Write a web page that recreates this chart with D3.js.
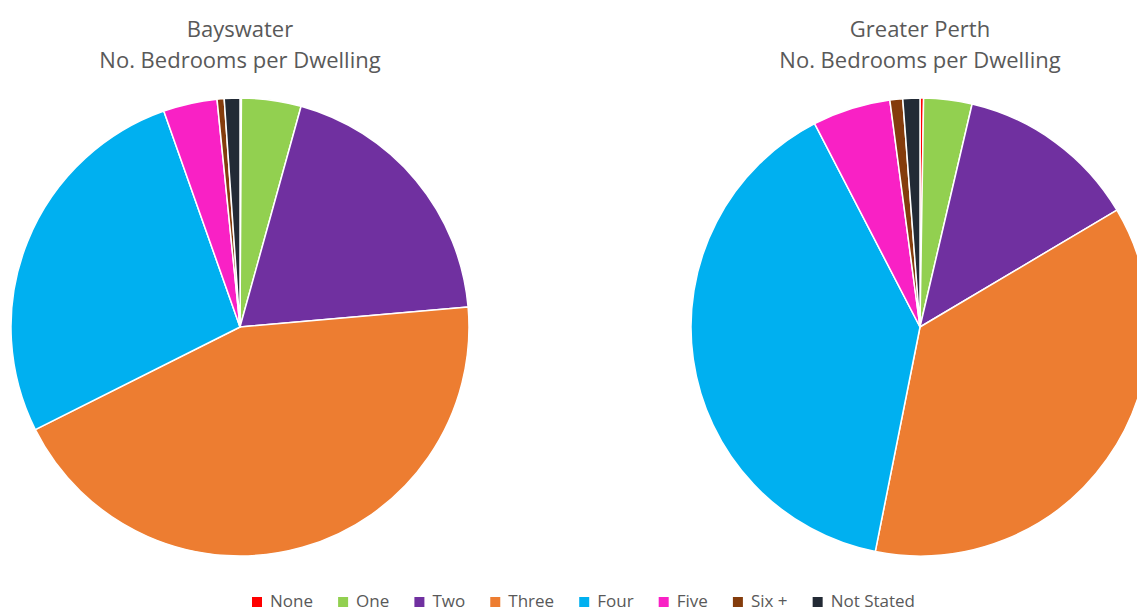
<!DOCTYPE html>
<html>
<head>
<meta charset="utf-8">
<script src="https://cdn.jsdelivr.net/npm/d3@7"></script>
<style>
  html, body { margin: 0; padding: 0; background: #fff; overflow: hidden; }
  svg { display: block; }
  text { font-family: "Open Sans", "Noto Sans", sans-serif; fill: #595959; }
</style>
</head>
<body>
<svg id="chart" width="1137" height="613"></svg>
<script>
// Bedroom categories and their colours
const categories = ["None", "One", "Two", "Three", "Four", "Five", "Six +", "Not Stated"];
const colors = ["#FF0000", "#92D050", "#7030A0", "#ED7D31", "#00B0F0", "#F921C5", "#843C0C", "#222A35"];

// Share of dwellings (%) by number of bedrooms
const bayswater = [0.1, 4.2, 19.3, 44.0, 27.0, 3.8, 0.5, 1.1];
const greaterPerth = [0.25, 3.4, 12.8, 36.6, 39.2, 5.5, 0.9, 1.2];

const charts = [
  { title: ["Bayswater", "No. Bedrooms per Dwelling"], values: bayswater, cx: 240 },
  { title: ["Greater Perth", "No. Bedrooms per Dwelling"], values: greaterPerth, cx: 920 }
];

const svg = d3.select("#chart");
const cy = 327, radius = 229;

const color = d3.scaleOrdinal().domain(categories).range(colors);
const pie = d3.pie().sort(null).value(d => d.value);
const arc = d3.arc().innerRadius(0).outerRadius(radius);

charts.forEach(c => {
  const data = categories.map((k, i) => ({ key: k, value: c.values[i] }));
  const g = svg.append("g").attr("transform", `translate(${c.cx},${cy})`);
  g.selectAll("path")
    .data(pie(data))
    .join("path")
    .attr("d", arc)
    .attr("fill", d => color(d.data.key))
    .attr("stroke", "#fff")
    .attr("stroke-width", 1.5)
    .attr("stroke-linejoin", "round");

  const t = svg.append("text")
    .attr("text-anchor", "middle")
    .style("font-size", "22px");
  t.append("tspan").attr("x", c.cx).attr("y", 37).text(c.title[0]);
  t.append("tspan").attr("x", c.cx).attr("y", 68).text(c.title[1]);
});

// Legend along the bottom edge, spread over a fixed span
const legendLeft = 252, legendSpan = 663;
const legend = svg.append("g");
const items = legend.selectAll("g").data(categories).join("g");
items.append("rect")
  .attr("width", 10).attr("height", 10)
  .attr("y", 597)
  .attr("fill", d => color(d));
items.append("text")
  .attr("x", 18).attr("y", 607)
  .style("font-size", "17px")
  .text(d => d);

const widths = [];
items.each(function () {
  widths.push(18 + d3.select(this).select("text").node().getComputedTextLength());
});
const gap = (legendSpan - d3.sum(widths)) / (categories.length - 1);
let x = legendLeft;
items.each(function (d, i) {
  d3.select(this).attr("transform", `translate(${x},0)`);
  x += widths[i] + gap;
});
</script>
</body>
</html>
